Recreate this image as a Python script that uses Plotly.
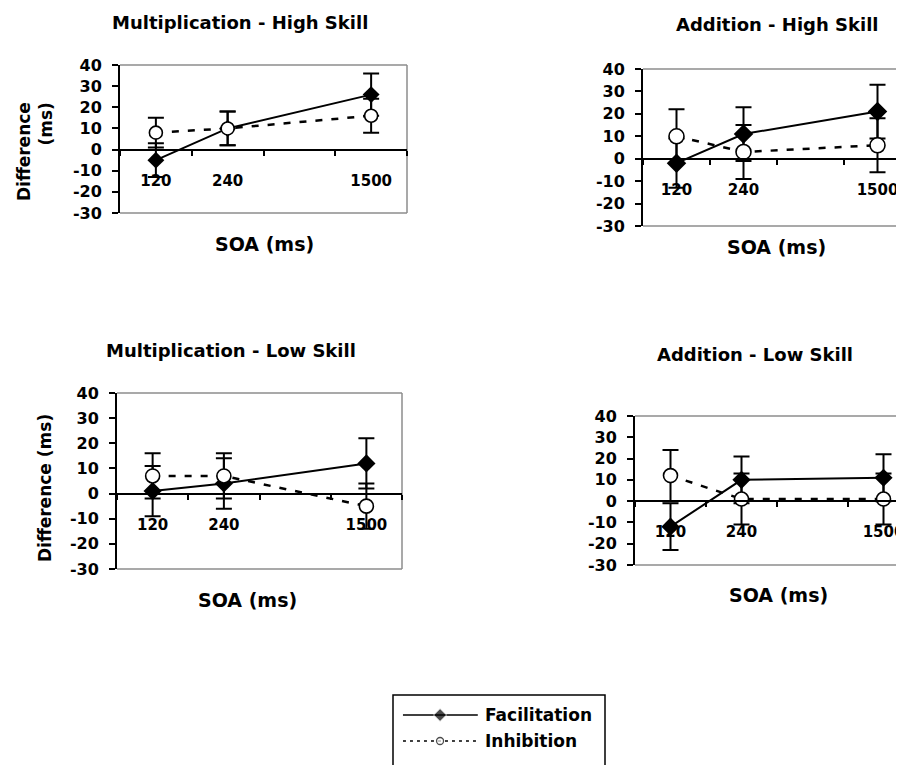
import plotly.graph_objects as go

W, H = 904, 765
OFF = 8  # page body margin that the browser adds around the figure

# ---------------- data ----------------
soa = ["120", "240", "1500"]
soa_slots = ["120", "240", " ", "1500"]

mult_high_fac = [-5, 10, 26]
mult_high_fac_err = [8, 8, 10]
mult_high_inh = [8, 10, 16]
mult_high_inh_err = [7, 8, 8]

add_high_fac = [-2, 11, 21]
add_high_fac_err = [11, 12, 12]
add_high_inh = [10, 3, 6]
add_high_inh_err = [12, 12, 12]

mult_low_fac = [1, 4, 12]
mult_low_fac_err = [10, 10, 10]
mult_low_inh = [7, 7, -5]
mult_low_inh_err = [9, 9, 9]

add_low_fac = [-12, 10, 11]
add_low_fac_err = [11, 11, 11]
add_low_inh = [12, 1, 1]
add_low_inh_err = [12, 12, 12]

y_ticks = [-30, -20, -10, 0, 10, 20, 30, 40]
y_ticktext = [str(v) for v in y_ticks]

titles = ["Multiplication - High Skill", "Addition - High Skill",
          "Multiplication - Low Skill", "Addition - Low Skill"]
series_names = ["Facilitation", "Inhibition"]

# ---------------- layout helpers ----------------
FONT = "DejaVu Sans"


def px(x):
    return (x - OFF) / W


def py(y):
    return 1 - (y - OFF) / H


MAXX = W + OFF  # right-most page pixel the figure can reach

# left, slot width, top, bottom (page pixels)
panels = [
    dict(left=120, slot=71.75, top=65, bottom=213,
         fac=mult_high_fac, fac_err=mult_high_fac_err,
         inh=mult_high_inh, inh_err=mult_high_inh_err,
         title=titles[0], tpos=(240, 22), xt=(264, 244),
         yt=(35, 152), ytext="Difference<br>(ms)", msize=13),
    dict(left=643, slot=67, top=69, bottom=226,
         fac=add_high_fac, fac_err=add_high_fac_err,
         inh=add_high_inh, inh_err=add_high_inh_err,
         title=titles[1], tpos=(777, 24), xt=(776, 247),
         yt=None, ytext=None, msize=15),
    dict(left=117, slot=71.25, top=393, bottom=569,
         fac=mult_low_fac, fac_err=mult_low_fac_err,
         inh=mult_low_inh, inh_err=mult_low_inh_err,
         title=titles[2], tpos=(231, 350), xt=(247, 600),
         yt=(45, 488), ytext="Difference (ms)", msize=14),
    dict(left=635, slot=71, top=416, bottom=565,
         fac=add_low_fac, fac_err=add_low_fac_err,
         inh=add_low_inh, inh_err=add_low_inh_err,
         title=titles[3], tpos=(755, 355), xt=(778, 595),
         yt=None, ytext=None, msize=14),
]

fig = go.Figure()
annotations = []
shapes = []
layout_axes = {}
gray = "#8c8c8c"
ytickfont = dict(family=FONT, size=16, color="black", weight="bold")
xtickfont = dict(family=FONT, size=15, color="black", weight="bold")

for i, p in enumerate(panels, start=1):
    l, t, b = p["left"], p["top"], p["bottom"]
    r = min(l + 4 * p["slot"], MAXX)
    xend = -0.5 + (r - l) / p["slot"]
    xs = "" if i == 1 else str(i)
    xa, ya = "x" + xs, "y" + xs
    y0p, y1p = py(b), py(t)
    zero_pos = y0p + (0 - (-30)) / 70 * (y1p - y0p)

    layout_axes["xaxis" + xs] = dict(
        domain=[px(l), px(r)], type="category", categoryorder="array",
        categoryarray=soa_slots, range=[-0.5, xend],
        anchor="free", position=zero_pos,
        showline=True, linecolor="black", linewidth=2,
        ticks="outside", tickson="boundaries", ticklen=5, tickwidth=2,
        tickcolor="black", ticklabelstandoff=17, tickfont=xtickfont,
        showgrid=False, zeroline=False, fixedrange=True,
    )
    layout_axes["yaxis" + xs] = dict(
        domain=[y0p, y1p], anchor=xa, range=[-30, 40],
        tickmode="array", tickvals=y_ticks, ticktext=y_ticktext,
        showline=True, linecolor="black", linewidth=2,
        ticks="outside", ticklen=6, tickwidth=2, tickcolor="black",
        ticklabelstandoff=7, tickfont=ytickfont,
        showgrid=False, zeroline=False, fixedrange=True,
    )

    # gray plot-area frame (top, bottom, right)
    for (fx0, fy0), (fx1, fy1) in [((0, 1), (1, 1)), ((0, 0), (1, 0)),
                                   ((1, 0), (1, 1))]:
        shapes.append(dict(type="line", xref=xa + " domain", yref=ya + " domain",
                           x0=fx0, y0=fy0, x1=fx1, y1=fy1,
                           line=dict(color=gray, width=1.5), layer="below"))

    err_style = dict(type="data", symmetric=True, color="black",
                     thickness=2, width=8)
    fig.add_trace(go.Scatter(
        x=soa, y=p["fac"], xaxis=xa, yaxis=ya, mode="lines+markers",
        name=series_names[0], showlegend=False,
        line=dict(color="black", width=2),
        marker=dict(symbol="diamond", size=p["msize"], color="black"),
        error_y=dict(array=p["fac_err"], **err_style), cliponaxis=False,
    ))
    fig.add_trace(go.Scatter(
        x=soa, y=p["inh"], xaxis=xa, yaxis=ya, mode="lines+markers",
        name=series_names[1], showlegend=False,
        line=dict(color="black", width=2.5, dash="7px,9px"),
        marker=dict(symbol="circle", size=p["msize"], color="white",
                    line=dict(color="black", width=1.6)),
        error_y=dict(array=p["inh_err"], **err_style), cliponaxis=False,
    ))

    annotations.append(dict(
        text=p["title"], x=px(p["tpos"][0]), y=py(p["tpos"][1]),
        xref="paper", yref="paper", showarrow=False,
        xanchor="center", yanchor="middle",
        font=dict(family=FONT, size=18, color="black", weight="bold")))
    annotations.append(dict(
        text="SOA (ms)", x=px(p["xt"][0]), y=py(p["xt"][1]),
        xref="paper", yref="paper", showarrow=False,
        xanchor="center", yanchor="middle",
        font=dict(family=FONT, size=19, color="black", weight="bold")))
    if p["ytext"]:
        annotations.append(dict(
            text=p["ytext"], x=px(p["yt"][0]), y=py(p["yt"][1]),
            xref="paper", yref="paper", showarrow=False, textangle=-90,
            align="right", xanchor="center", yanchor="middle",
            font=dict(family=FONT, size=17, color="black", weight="bold")))

# ---------------- legend (own small axis) ----------------
LL, LR, LT = 393, 605, 695
layout_axes["xaxis5"] = dict(domain=[px(LL), px(LR)], range=[0, 1],
                             anchor="y5", visible=False, fixedrange=True)
layout_axes["yaxis5"] = dict(domain=[0, py(LT)], range=[0, 1],
                             anchor="x5", visible=False, fixedrange=True)
shapes.append(dict(type="path", xref="paper", yref="paper",
                   path=f"M {px(LL)},0 L {px(LL)},{py(LT)} L {px(LR)},{py(LT)} L {px(LR)},0",
                   line=dict(color="black", width=1.5)))

leg_frac_y = [(765 - 715) / (765 - LT), (765 - 741) / (765 - LT)]
ly = [py(765) + f * (py(LT) - py(765)) for f in leg_frac_y]
ly = [(v - 0) / py(LT) for v in ly]
leg_x = [0.047, 0.222, 0.40]
fig.add_trace(go.Scatter(
    x=leg_x, y=[ly[0]] * 3, xaxis="x5", yaxis="y5", mode="lines+markers",
    showlegend=False, hoverinfo="skip", cliponaxis=False,
    line=dict(color="black", width=1.5),
    marker=dict(symbol="diamond", size=[0, 10, 0], color="black")))
fig.add_trace(go.Scatter(
    x=leg_x, y=[ly[1]] * 3, xaxis="x5", yaxis="y5", mode="lines+markers",
    showlegend=False, hoverinfo="skip", cliponaxis=False,
    line=dict(color="black", width=1.5, dash="3px,4px"),
    marker=dict(symbol="circle", size=[0, 7, 0], color="white",
                line=dict(color="black", width=1.3))))
for name, yy in zip(series_names, ly):
    annotations.append(dict(
        text=name, x=0.425, y=yy, xref="x5", yref="y5", showarrow=False,
        xanchor="left", yanchor="middle",
        font=dict(family=FONT, size=17, color="black", weight="bold")))

fig.update_layout(
    width=W, height=H, margin=dict(l=0, r=0, t=0, b=0, autoexpand=False),
    paper_bgcolor="white", plot_bgcolor="white", showlegend=False,
    annotations=annotations, shapes=shapes, **layout_axes,
)

fig.write_html("out.html")
